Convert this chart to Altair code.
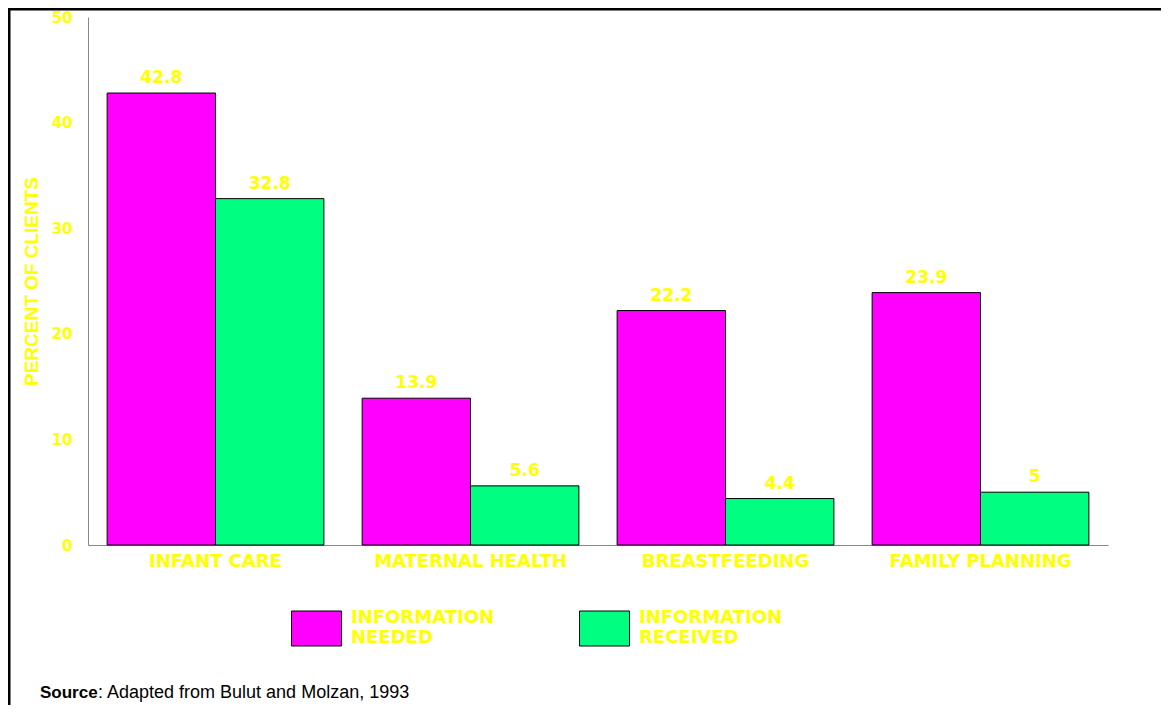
import altair as alt
import pandas as pd

categories = ["INFANT CARE", "MATERNAL HEALTH", "BREASTFEEDING", "FAMILY PLANNING"]
series = ["INFORMATION NEEDED", "INFORMATION RECEIVED"]
needed = [42.8, 13.9, 22.2, 23.9]
received = [32.8, 5.6, 4.4, 5]
colors = ["#FF00FF", "#00FF80"]
y_ticks = [0, 10, 20, 30, 40, 50]
y_title = "PERCENT OF CLIENTS"
source_bold = "Source"
source_rest = ": Adapted from Bulut and Molzan, 1993"

rows = []
for i, c in enumerate(categories):
    rows.append({"category": c, "series": series[0], "value": needed[i]})
    rows.append({"category": c, "series": series[1], "value": received[i]})
df = pd.DataFrame(rows)

YELLOW = "#FFFF00"
WIDE = "DejaVu Sans"

x_enc = alt.X(
    "category:N",
    sort=categories,
    scale=alt.Scale(paddingInner=0.15, paddingOuter=0.075),
    axis=alt.Axis(
        title=None, labelAngle=0, ticks=False, domainColor="#888888",
        labelColor=YELLOW, labelFont=WIDE, labelFontWeight="bold",
        labelFontSize=18, labelPadding=7, labelLimit=400,
    ),
)
y_enc = alt.Y(
    "value:Q",
    scale=alt.Scale(domain=[0, 50], nice=False),
    axis=alt.Axis(
        values=y_ticks, grid=False, ticks=False, domainColor="#888888",
        labelColor=YELLOW, labelFont=WIDE, labelFontWeight="bold",
        labelFontSize=15, labelPadding=16,
        title=y_title, titleColor=YELLOW, titleFont="Liberation Sans",
        titleFontWeight="bold", titleFontSize=19, titleAngle=-90,
        titleX=-57, titleY=264, titleAlign="center", titleBaseline="middle",
    ),
)
xoff = alt.XOffset("series:N", sort=series, scale=alt.Scale(paddingInner=0, paddingOuter=0))

bars = alt.Chart(df).mark_bar(stroke="black", strokeWidth=1).encode(
    x=x_enc,
    xOffset=xoff,
    y=y_enc,
    color=alt.Color(
        "series:N", sort=series,
        scale=alt.Scale(domain=series, range=colors),
        legend=alt.Legend(
            title=None, orient="none", legendX=203, legendY=575,
            direction="horizontal", columns=2,
            symbolType="M-1,-0.26H1V1.14H-1Z", symbolSize=2500,
            symbolStrokeColor="black", symbolStrokeWidth=1, symbolOpacity=1,
            labelExpr="split(datum.label, ' ')",
            labelFont=WIDE, labelFontWeight="bold", labelFontSize=18,
            labelColor=YELLOW, labelOffset=9, columnPadding=82, labelLimit=400,
        ),
    ),
)

labels = alt.Chart(df).mark_text(
    baseline="alphabetic", dy=-10, color=YELLOW, font=WIDE,
    fontWeight="bold", fontSize=17,
).encode(
    x=alt.X("category:N", sort=categories),
    xOffset=alt.XOffset("series:N", sort=series),
    y="value:Q",
    text=alt.Text("value:Q"),
)

one = pd.DataFrame({"k": [0]})
left_border = alt.Chart(one).mark_rule(color="black", strokeWidth=3).encode(
    x=alt.value(-79), y=alt.value(-9), y2=alt.value(700)
)
top_border = alt.Chart(one).mark_rule(color="black", strokeWidth=3).encode(
    x=alt.value(-80), x2=alt.value(1075), y=alt.value(-8)
)
src1 = alt.Chart(one).mark_text(
    align="left", baseline="middle", font="Liberation Sans", fontWeight="bold",
    fontSize=17, color="black",
).encode(x=alt.value(-48), y=alt.value(676), text=alt.value(source_bold))
src2 = alt.Chart(one).mark_text(
    align="left", baseline="middle", font="Liberation Sans",
    fontSize=18, color="black",
).encode(x=alt.value(10), y=alt.value(676), text=alt.value(source_rest))

chart = alt.layer(bars, labels, left_border, top_border, src1, src2).properties(
    width=1020, height=528,
    padding={"left": 80, "top": 9, "right": 53, "bottom": 160},
    autosize=alt.AutoSizeParams(type="none"),
    background="white",
).configure_view(stroke=None)

chart.save("out.html", embed_options={"renderer": "svg", "actions": False})
